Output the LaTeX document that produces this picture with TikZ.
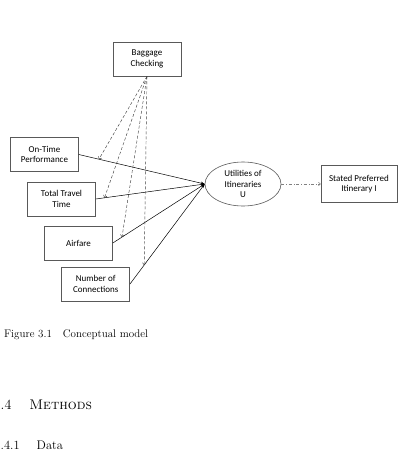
\documentclass[tikz,border=0pt]{standalone}
\usepackage{fontspec}
\newfontfamily\boxfont{Carlito}
\usetikzlibrary{arrows.meta,shapes.geometric}

\tikzset{
  factor/.style={draw=black!65, line width=0.6pt, minimum width=68pt, minimum height=34pt,
    inner sep=0pt, align=center, font=\boxfont\fontsize{9}{10.8}\selectfont},
  effect/.style={line width=0.5pt, -{Stealth[length=4pt,width=3pt]}},
  moderate/.style={densely dashed, line width=0.45pt, black!75, -{To[length=2.5pt,width=4pt]}},
  heading/.style={anchor=base west, inner sep=0pt},
}

\begin{document}
\begin{tikzpicture}[x=1pt, y=-1pt]
    \useasboundingbox (0,0) rectangle (414,459);

    \node[factor] (bag) at (147,59) {Baggage\\Checking};
    \node[factor] (ontime) at (44.5,154.5) {On-Time\\Performance};
    \node[factor] (travel) at (61.5,199) {Total Travel\\Time};
    \node[factor] (fare) at (78.5,243) {Airfare};
    \node[factor] (conn) at (95.7,284) {Number of\\Connections};

    \node[factor, ellipse, minimum width=76pt, minimum height=44pt] (util) at (243,184) {Utilities of\\Itineraries\\U};
    \node[factor, minimum width=76pt, minimum height=37pt] (stated) at (359,184) {Stated Preferred\\Itinerary I};

    \draw[effect] (ontime.east) -- (util.west) coordinate[pos=0.16] (m1);
    \draw[effect] (travel.east) -- (util.west) coordinate[pos=0.08] (m2);
    \draw[effect] (fare.east) -- (util.west) coordinate[pos=0.1] (m3);
    \draw[effect] (conn.east) -- (util.west) coordinate[pos=0.19] (m4);

    \foreach \m in {m1,m2,m3,m4}
      \draw[moderate] (bag.south) -- (\m);

    \draw[gray, dash dot, line width=0.5pt, -{To[length=2.5pt,width=4pt]}] (util) -- (stated);

    \node[heading, font=\fontsize{11}{13}\selectfont] (cap) at (4,337.5) {Figure 3.1\quad Conceptual model};
    \node[heading, font=\fontsize{14}{16}\selectfont] (sec) at (0.5,409) {.4\hspace{18pt}\textsc{Methods}};
    \node[heading, font=\fontsize{12.5}{14}\selectfont] (sub) at (0.5,449.3) {.4.1\hspace{17pt}Data};

  \end{tikzpicture}
\end{document}
